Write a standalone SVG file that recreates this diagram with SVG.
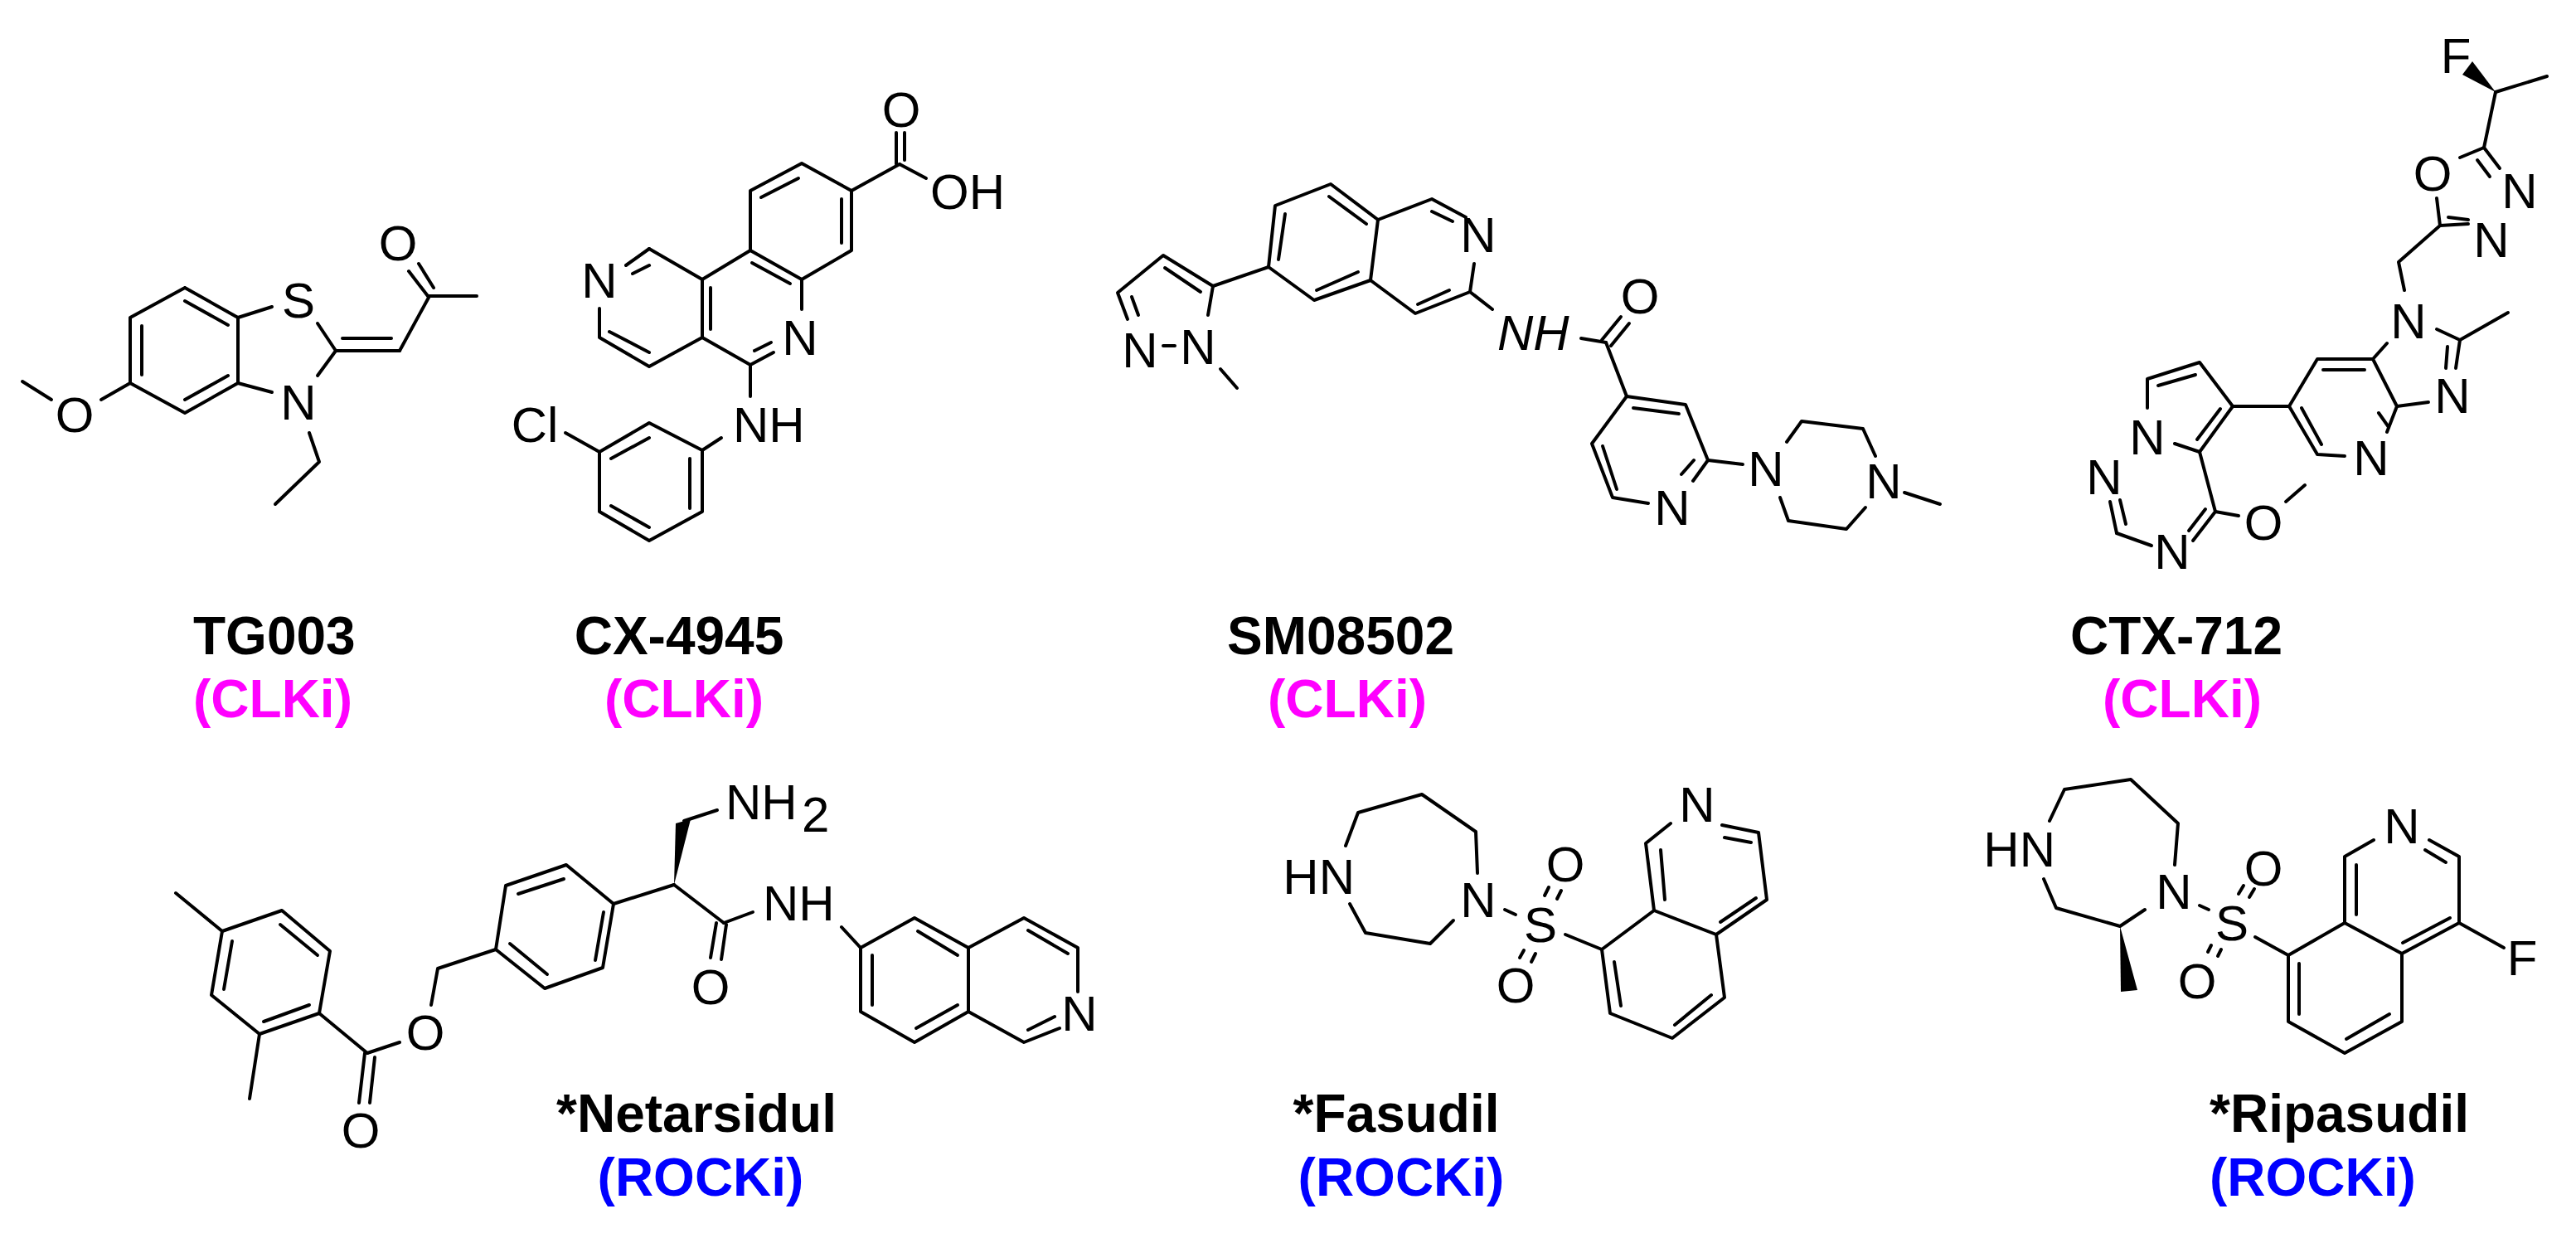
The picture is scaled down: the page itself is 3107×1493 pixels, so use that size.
<svg xmlns="http://www.w3.org/2000/svg" width="3107" height="1493" viewBox="0 0 3107 1493">
<style>
line,polyline{stroke:#000;stroke-width:4;fill:none;stroke-linecap:round;stroke-linejoin:round}
.a{font-family:"Liberation Sans",Arial,sans-serif;font-size:60px;text-anchor:middle;fill:#000}
.s{text-anchor:start}
.e{text-anchor:end}
.nm{font-family:"Liberation Sans",Arial,sans-serif;font-size:64px;font-weight:bold;fill:#000}
.clk{font-family:"Liberation Sans",Arial,sans-serif;font-size:64px;font-weight:bold;fill:#FF00FF}
.rock{font-family:"Liberation Sans",Arial,sans-serif;font-size:64px;font-weight:bold;fill:#0000FF}
.w{fill:#000;stroke:none}
</style>
<rect width="3107" height="1493" fill="#fff"/>

<g id="TG003">
<polyline points="223,347 287,383 287,462 223,498 157,462 157,383 223,347"/>
<line x1="223" y1="363" x2="275" y2="392"/><line x1="171" y1="393" x2="171" y2="452"/><line x1="223" y1="482" x2="275" y2="453"/>
<line x1="287" y1="383" x2="328" y2="370"/><text class="a" x="360" y="383">S</text>
<polyline points="383,390 405,423 383,453"/>
<text class="a" x="360" y="506">N</text><line x1="287" y1="462" x2="328" y2="473"/>
<line x1="405" y1="423" x2="482" y2="423"/><line x1="413" y1="408" x2="472" y2="408"/>
<line x1="482" y1="423" x2="518" y2="357"/>
<line x1="516" y1="357" x2="493" y2="327"/><line x1="523" y1="347" x2="505" y2="318"/>
<text class="a" x="480" y="314">O</text>
<line x1="518" y1="357" x2="575" y2="357"/>
<polyline points="373,522 385,557 332,608"/>
<line x1="157" y1="462" x2="122" y2="482"/><text class="a" x="90" y="521">O</text><line x1="62" y1="482" x2="27" y2="460"/>
<text class="nm" x="233" y="789">TG003</text>
<text class="clk" x="233" y="865">(CLKi)</text>
</g>

<g id="CX-4945">
<line x1="755" y1="320" x2="783" y2="300"/><line x1="763" y1="330" x2="783" y2="320"/>
<text class="a" x="723" y="359">N</text>
<polyline points="783,300 847,337 847,407 783,442 723,407 723,372"/>
<line x1="857" y1="347" x2="857" y2="397"/><line x1="735" y1="400" x2="783" y2="425"/>
<polyline points="847,337 905,302 967,337 967,373"/><line x1="907" y1="317" x2="953" y2="342"/>
<text class="a" x="965" y="428">N</text>
<polyline points="933,425 905,440 847,407"/><line x1="910" y1="423" x2="930" y2="413"/>
<line x1="905" y1="440" x2="905" y2="478"/>
<text class="a s" x="884" y="533">NH</text>
<polyline points="905,302 905,230 967,197 1027,230 1027,302 967,337"/>
<line x1="918" y1="238" x2="963" y2="215"/><line x1="1015" y1="240" x2="1015" y2="293"/>
<line x1="1027" y1="230" x2="1085" y2="198"/>
<line x1="1081" y1="198" x2="1081" y2="160"/><line x1="1091" y1="193" x2="1091" y2="160"/>
<text class="a" x="1087" y="153">O</text>
<line x1="1085" y1="198" x2="1117" y2="215"/><text class="a s" x="1122" y="252">OH</text>
<line x1="870" y1="528" x2="847" y2="543"/>
<polyline points="847,543 783,510 723,545 723,617 783,652 847,617 847,543"/>
<line x1="737" y1="553" x2="783" y2="528"/><line x1="832" y1="553" x2="832" y2="613"/><line x1="737" y1="610" x2="783" y2="636"/>
<line x1="723" y1="545" x2="682" y2="522"/><text class="a" x="645" y="533">Cl</text>
<text class="nm" x="819" y="789" text-anchor="middle">CX-4945</text>
<text class="clk" x="825" y="865" text-anchor="middle">(CLKi)</text>
</g>

<g id="SM08502">
<polyline points="1463,345 1403,308 1348,353 1360,385"/>
<line x1="1373" y1="380" x2="1365" y2="358"/><line x1="1405" y1="323" x2="1448" y2="352"/>
<text class="a" x="1375" y="443">N</text><line x1="1403" y1="417" x2="1417" y2="417"/><text class="a" x="1445" y="439">N</text>
<line x1="1457" y1="380" x2="1463" y2="345"/><line x1="1472" y1="445" x2="1492" y2="468"/>
<line x1="1463" y1="345" x2="1530" y2="322"/>
<polyline points="1530,322 1538,248 1605,222 1662,265 1653,338 1585,362 1530,322"/>
<line x1="1550" y1="258" x2="1542" y2="313"/><line x1="1603" y1="237" x2="1648" y2="270"/><line x1="1588" y1="350" x2="1638" y2="328"/>
<polyline points="1662,265 1727,240 1768,262"/><line x1="1727" y1="255" x2="1752" y2="267"/>
<text class="a" x="1783" y="304">N</text>
<polyline points="1778,318 1773,352 1707,378 1653,338"/><line x1="1710" y1="367" x2="1748" y2="350"/>
<line x1="1773" y1="352" x2="1800" y2="373"/>
<text class="a s" x="1806" y="422" font-style="italic">NH</text>
<line x1="1907" y1="408" x2="1937" y2="413"/>
<line x1="1932" y1="410" x2="1955" y2="382"/><line x1="1943" y1="417" x2="1965" y2="390"/>
<text class="a" x="1978" y="378">O</text>
<line x1="1937" y1="413" x2="1962" y2="478"/>
<polyline points="1988,607 1945,600 1920,535 1962,478 2033,488 2060,555 2042,580"/>
<line x1="1970" y1="492" x2="2025" y2="499"/><line x1="1933" y1="538" x2="1950" y2="590"/><line x1="2028" y1="572" x2="2043" y2="555"/>
<text class="a" x="2017" y="633">N</text>
<line x1="2060" y1="555" x2="2102" y2="560"/><text class="a" x="2130" y="586">N</text>
<polyline points="2155,533 2173,508 2247,517 2262,550"/>
<polyline points="2147,600 2157,628 2227,638 2250,612"/>
<text class="a" x="2272" y="601">N</text><line x1="2297" y1="594" x2="2340" y2="608"/>
<text class="nm" x="1617" y="789" text-anchor="middle">SM08502</text>
<text class="clk" x="1625" y="865" text-anchor="middle">(CLKi)</text>
</g>

<g id="CTX-712">
<text class="a" x="2962" y="88">F</text>
<polygon class="w" points="3010,111 2970,90 2982,74"/>
<line x1="3010" y1="111" x2="3072" y2="92"/><line x1="3010" y1="111" x2="2996" y2="178"/>
<line x1="2996" y1="178" x2="2967" y2="190"/><text class="a" x="2934" y="230">O</text>
<line x1="2996" y1="178" x2="3015" y2="203"/><line x1="2988" y1="193" x2="3003" y2="213"/>
<text class="a" x="3039" y="251">N</text><text class="a" x="3005" y="310">N</text>
<line x1="2977" y1="270" x2="2943" y2="272"/><line x1="2953" y1="262" x2="2977" y2="265"/>
<polyline points="2939,239 2943,272 2893,316 2900,350"/>
<text class="a" x="2905" y="408">N</text>
<polyline points="2939,397 2967,410 2962,444"/><line x1="2967" y1="410" x2="3025" y2="377"/><line x1="2952" y1="418" x2="2950" y2="444"/>
<text class="a" x="2958" y="498">N</text>
<line x1="2929" y1="485" x2="2891" y2="490"/>
<polyline points="2879,414 2862,433 2891,490 2879,521"/>
<polyline points="2862,433 2795,433 2761,490 2795,548 2828,550"/>
<line x1="2802" y1="446" x2="2852" y2="446"/><line x1="2776" y1="492" x2="2800" y2="536"/><line x1="2869" y1="498" x2="2881" y2="515"/>
<text class="a" x="2860" y="573">N</text>
<line x1="2761" y1="490" x2="2693" y2="490"/>
<polyline points="2693,490 2653,437 2590,457 2590,492"/>
<line x1="2603" y1="465" x2="2648" y2="452"/>
<text class="a" x="2590" y="548">N</text>
<polyline points="2623,535 2653,545 2693,490"/><line x1="2650" y1="530" x2="2678" y2="493"/>
<text class="a" x="2538" y="596">N</text>
<line x1="2545" y1="605" x2="2553" y2="643"/><line x1="2557" y1="603" x2="2564" y2="632"/>
<line x1="2553" y1="643" x2="2595" y2="658"/>
<text class="a" x="2620" y="686">N</text>
<polyline points="2645,652 2672,617 2653,545"/><line x1="2640" y1="640" x2="2660" y2="614"/>
<line x1="2672" y1="617" x2="2700" y2="622"/><text class="a" x="2730" y="651">O</text>
<line x1="2757" y1="605" x2="2780" y2="585"/>
<text class="nm" x="2625" y="789" text-anchor="middle">CTX-712</text>
<text class="clk" x="2632" y="865" text-anchor="middle">(CLKi)</text>
</g>

<g id="Netarsidul">
<polyline points="268,1123 340,1098 398,1147 385,1222 313,1247 255,1200 268,1123"/>
<line x1="338" y1="1115" x2="383" y2="1152"/><line x1="280" y1="1135" x2="270" y2="1193"/><line x1="318" y1="1232" x2="373" y2="1212"/>
<line x1="268" y1="1123" x2="212" y2="1077"/><line x1="313" y1="1247" x2="301" y2="1325"/>
<line x1="385" y1="1222" x2="443" y2="1270"/>
<line x1="440" y1="1270" x2="433" y2="1330"/><line x1="452" y1="1275" x2="446" y2="1330"/>
<text class="a" x="435" y="1384">O</text>
<line x1="443" y1="1270" x2="482" y2="1257"/><text class="a" x="513" y="1266">O</text>
<polyline points="520,1212 528,1168 598,1145"/>
<polyline points="598,1145 610,1068 683,1043 740,1090 727,1167 657,1192 598,1145"/>
<line x1="625" y1="1078" x2="680" y2="1060"/><line x1="615" y1="1138" x2="660" y2="1175"/><line x1="728" y1="1100" x2="718" y2="1158"/>
<line x1="740" y1="1090" x2="813" y2="1067"/>
<polygon class="w" points="813,1067 815,993 833,988"/>
<line x1="825" y1="990" x2="865" y2="977"/>
<text class="a s" x="875" y="988">NH</text><text class="a s" x="967" y="1003" font-size="42">2</text>
<line x1="813" y1="1067" x2="873" y2="1113"/>
<line x1="864" y1="1113" x2="857" y2="1155"/><line x1="876" y1="1115" x2="870" y2="1157"/>
<text class="a" x="857" y="1211">O</text>
<line x1="873" y1="1113" x2="908" y2="1100"/><text class="a s" x="920" y="1110">NH</text>
<line x1="1015" y1="1118" x2="1038" y2="1143"/>
<polyline points="1038,1143 1103,1107 1168,1143 1168,1220 1103,1257 1038,1220 1038,1143"/>
<line x1="1107" y1="1123" x2="1155" y2="1152"/><line x1="1052" y1="1152" x2="1052" y2="1212"/><line x1="1105" y1="1240" x2="1155" y2="1212"/>
<polyline points="1168,1143 1235,1107 1300,1143 1300,1196"/><line x1="1240" y1="1122" x2="1288" y2="1150"/>
<text class="a" x="1302" y="1243">N</text>
<polyline points="1278,1240 1235,1257 1168,1220"/><line x1="1240" y1="1242" x2="1272" y2="1226"/>
<text class="nm" x="840" y="1365" text-anchor="middle">*Netarsidul</text>
<text class="rock" x="845" y="1442" text-anchor="middle">(ROCKi)</text>
</g>

<g id="Fasudil">
<text class="a e" x="1634" y="1078">HN</text>
<polyline points="1623,1020 1638,980 1715,958 1780,1003 1782,1053"/>
<text class="a" x="1783" y="1106">N</text>
<polyline points="1753,1110 1725,1138 1647,1125 1628,1090"/>
<line x1="1815" y1="1097" x2="1828" y2="1103"/>
<text class="a" x="1858" y="1136">S</text>
<line x1="1863" y1="1080" x2="1868" y2="1070"/><line x1="1878" y1="1084" x2="1883" y2="1074"/>
<text class="a" x="1888" y="1063">O</text>
<line x1="1833" y1="1155" x2="1838" y2="1146"/><line x1="1847" y1="1160" x2="1852" y2="1150"/>
<text class="a" x="1828" y="1209">O</text>
<line x1="1888" y1="1127" x2="1932" y2="1145"/>
<polyline points="1932,1145 1995,1098 2070,1127 2080,1203 2017,1252 1942,1222 1932,1145"/>
<line x1="1947" y1="1160" x2="1955" y2="1213"/><line x1="2064" y1="1200" x2="2020" y2="1236"/>
<polyline points="1995,1098 1985,1017 2015,993"/><line x1="2003" y1="1025" x2="2008" y2="1085"/>
<text class="a" x="2047" y="991">N</text>
<polyline points="2077,995 2121,1004 2131,1085 2070,1127"/>
<line x1="2080" y1="1010" x2="2112" y2="1016"/><line x1="2075" y1="1112" x2="2118" y2="1083"/>
<text class="nm" x="1684" y="1365" text-anchor="middle">*Fasudil</text>
<text class="rock" x="1690" y="1442" text-anchor="middle">(ROCKi)</text>
</g>

<g id="Ripasudil">
<text class="a e" x="2479" y="1045">HN</text>
<polyline points="2472,990 2490,952 2570,940 2627,993 2623,1043"/>
<text class="a" x="2622" y="1096">N</text>
<polyline points="2587,1097 2557,1117 2480,1095 2465,1060"/>
<polygon class="w" points="2557,1117 2558,1196 2578,1194"/>
<line x1="2653" y1="1092" x2="2664" y2="1097"/>
<text class="a" x="2692" y="1134">S</text>
<line x1="2700" y1="1078" x2="2706" y2="1068"/><line x1="2713" y1="1082" x2="2719" y2="1072"/>
<text class="a" x="2730" y="1068">O</text>
<line x1="2663" y1="1148" x2="2667" y2="1140"/><line x1="2675" y1="1153" x2="2679" y2="1145"/>
<text class="a" x="2650" y="1204">O</text>
<line x1="2720" y1="1130" x2="2760" y2="1152"/>
<polyline points="2760,1152 2828,1113 2897,1150 2897,1232 2828,1270 2760,1232 2760,1152"/>
<line x1="2773" y1="1162" x2="2773" y2="1223"/><line x1="2882" y1="1223" x2="2830" y2="1253"/>
<polyline points="2828,1113 2828,1033 2863,1013"/><line x1="2842" y1="1043" x2="2842" y2="1103"/>
<text class="a" x="2897" y="1017">N</text>
<polyline points="2930,1013 2966,1033 2966,1113 2897,1150"/>
<line x1="2925" y1="1025" x2="2950" y2="1040"/><line x1="2898" y1="1137" x2="2955" y2="1107"/>
<line x1="2966" y1="1113" x2="3020" y2="1143"/><text class="a" x="3042" y="1176">F</text>
<text class="nm" x="2665" y="1365">*Ripasudil</text>
<text class="rock" x="2665" y="1442">(ROCKi)</text>
</g>
</svg>
